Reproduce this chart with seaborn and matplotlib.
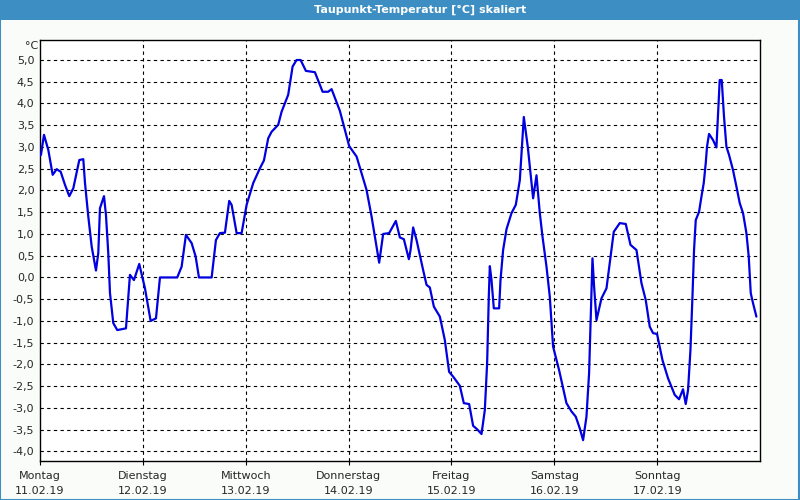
import matplotlib
matplotlib.use("Agg")
import matplotlib.pyplot as plt
import matplotlib.patches as mpatches
import seaborn as sns
import pandas as pd

# ---- data ----
hours = [0.0, 0.23, 0.93, 1.94, 2.96, 3.90, 4.83, 5.83, 6.83, 7.77, 9.17, 10.10, 10.50,
         11.27, 12.06, 13.06, 13.60, 13.99, 14.93, 15.39, 15.93, 16.33, 17.10, 18.03,
         20.06, 20.99, 21.92, 23.16, 24.49, 25.82, 27.06, 27.99, 32.02, 33.05, 34.05,
         35.38, 36.32, 37.09, 40.05, 41.05, 41.98, 43.15, 44.15, 44.71, 45.88, 47.04,
         48.21, 49.75, 51.31, 52.25, 53.25, 54.04, 55.58, 56.37, 57.91, 58.94, 59.87,
         60.81, 62.04, 64.14, 65.94, 67.24, 68.04, 69.97, 72.14, 73.87, 76.20, 77.37,
         79.14, 80.07, 81.47, 83.03, 83.97, 84.90, 86.07, 86.46, 87.07, 87.86, 89.40,
         90.19, 90.96, 91.90, 93.30, 94.46, 95.46, 96.40, 97.96, 98.89, 100.13, 101.06,
         101.99, 103.02, 103.79, 104.33, 104.72, 104.96, 105.35, 105.89, 107.13, 107.45,
         108.06, 108.85, 110.02, 111.02, 111.96, 112.89, 113.82, 115.06, 115.85, 116.62,
         117.25, 118.18, 118.95, 119.72, 121.12, 122.84, 124.01, 125.01, 125.95, 126.72,
         127.51, 128.12, 128.52, 128.91, 129.29, 129.85, 131.01, 132.18, 132.95, 133.88,
         135.28, 136.68, 137.78, 139.18, 140.34, 141.34, 142.27, 143.05, 143.98, 145.24,
         146.55, 148.11, 149.11, 150.04, 150.67, 151.21, 151.77, 152.24, 152.61, 153.01,
         153.78, 154.34, 154.87, 155.34, 155.64, 156.11, 157.04, 157.83, 158.21, 158.60,
         159.07, 159.60, 160.16, 160.77, 161.70, 162.50, 163.27, 164.04, 164.83, 165.37,
         165.84, 166.37, 167.16]
temps = [2.80, 2.82, 3.28, 2.93, 2.36, 2.49, 2.43, 2.13, 1.87, 2.05, 2.70, 2.72, 2.17,
         1.40, 0.71, 0.16, 0.56, 1.59, 1.87, 1.44, 0.56, -0.36, -1.05, -1.21,
         -1.17, 0.06, -0.06, 0.31, -0.25, -1.00, -0.94, 0.00, 0.00, 0.25, 0.98,
         0.79, 0.48, 0.00, 0.00, 0.86, 1.02, 1.03, 1.76, 1.67, 1.02, 1.02,
         1.67, 2.17, 2.51, 2.69, 3.20, 3.35, 3.51, 3.81, 4.20, 4.85, 5.00,
         5.00, 4.75, 4.72, 4.27, 4.27, 4.33, 3.83, 3.02, 2.78, 2.01, 1.40,
         0.34, 1.00, 1.02, 1.30, 0.92, 0.88, 0.42, 0.63, 1.15, 0.86, 0.17,
         -0.17, -0.23, -0.67, -0.90, -1.44, -2.17, -2.28, -2.49, -2.89, -2.91, -3.41,
         -3.49, -3.60, -3.05, -1.97, -0.44, 0.26, -0.06, -0.71, -0.71, -0.06,
         0.63, 1.11, 1.48, 1.67, 2.24, 3.69, 3.00, 1.82, 2.35, 1.48,
         0.94, 0.25, -0.44, -1.59, -2.13, -2.89, -3.08, -3.20, -3.47, -3.74,
         -3.20, -2.20, -0.90, 0.44, -0.21, -0.98, -0.48, -0.25, 0.33, 1.05,
         1.25, 1.23, 0.75, 0.63, -0.13, -0.52, -1.13, -1.28, -1.30, -1.90,
         -2.32, -2.70, -2.80, -2.57, -2.91, -2.59, -1.67, -0.44, 0.63, 1.32,
         1.51, 1.86, 2.17, 2.63, 3.01, 3.30, 3.16, 2.99, 3.74, 4.54,
         4.54, 3.70, 3.01, 2.82, 2.47, 2.09, 1.71, 1.48, 1.02, 0.48,
         -0.36, -0.59, -0.90]
day_names = ["Montag", "Dienstag", "Mittwoch", "Donnerstag", "Freitag", "Samstag", "Sonntag"]
day_dates = ["11.02.19", "12.02.19", "13.02.19", "14.02.19", "15.02.19", "16.02.19", "17.02.19"]
y_ticks = [-4.0, -3.5, -3.0, -2.5, -2.0, -1.5, -1.0, -0.5, 0.0, 0.5, 1.0, 1.5, 2.0,
           2.5, 3.0, 3.5, 4.0, 4.5, 5.0]
title = "Taupunkt-Temperatur [°C] skaliert"
unit = "°C"

sns.set_style("white")
plt.rcParams["font.family"] = ["DejaVu Sans"]

df = pd.DataFrame({"h": hours, "t": temps})

fig = plt.figure(figsize=(8, 5), dpi=100, facecolor="#fafcfa")
ax = fig.add_axes([0.05, 0.078, 0.90, 0.842])
ax.set_facecolor("white")

# title bar and border
fig.patches.append(mpatches.Rectangle((0, 0.96), 1, 0.04, transform=fig.transFigure,
                                      facecolor="#3d8fc3", edgecolor="none", zorder=0))
fig.patches.append(mpatches.Rectangle((0.0006, 0.001), 0.9982, 0.998, transform=fig.transFigure,
                                      facecolor="none", edgecolor="#3d8fc3", linewidth=1.5, zorder=1))
fig.text(0.525, 0.981, title, color="white", fontsize=8, fontweight="bold",
         ha="center", va="center")

# grid
for v in y_ticks:
    ax.axhline(v, color="black", linewidth=0.8, linestyle=(0, (3, 3)), zorder=1)
for d in range(1, 7):
    ax.axvline(d * 24, color="black", linewidth=0.8, linestyle=(0, (3, 3)), zorder=1)

sns.lineplot(data=df, x="h", y="t", ax=ax, color="#0000e0", linewidth=1.6, zorder=3)

ax.set_xlim(0, 168)
ax.set_ylim(-4.22, 5.46)
ax.set_yticks(y_ticks)
ax.set_yticklabels([f"{v:.1f}".replace(".", ",") for v in y_ticks], fontsize=8)
ax.set_xticks([d * 24 for d in range(7)])
ax.set_xticklabels([f"{n}\n{d}" for n, d in zip(day_names, day_dates)], fontsize=8,
                   linespacing=1.6)
ax.tick_params(axis="y", length=0, pad=4)
ax.tick_params(axis="x", length=3, width=0.8, direction="out", pad=4, color="black", bottom=True)
ax.set_xlabel("")
ax.set_ylabel("")
for s in ax.spines.values():
    s.set_visible(True)
    s.set_color("black")
    s.set_linewidth(1)

fig.text(0.039, 0.908, unit, fontsize=8, ha="center", va="center")

fig.savefig("out.png", dpi=100, facecolor=fig.get_facecolor())
